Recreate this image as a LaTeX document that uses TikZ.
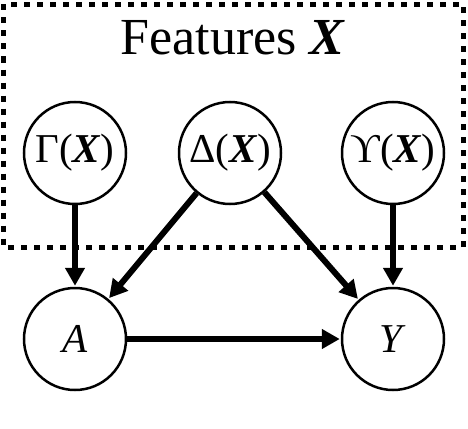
\documentclass[tikz,border=0pt]{standalone}
\usepackage{fontspec}
\setmainfont{Liberation Serif}
\usetikzlibrary{arrows.meta}

\newcommand{\bX}{\textbf{\textit{X}}}

\begin{document}
\begin{tikzpicture}[
    x=1pt, y=-1pt,
    var/.style={circle, draw=black, line width=2.5pt, fill=white, minimum size=102pt, inner sep=0pt, font=\fontsize{41}{45}\selectfont},
    group/.style={draw=black, line width=5pt, dash pattern=on 6pt off 7pt},
    arrow/.style={-{Triangle[length=18pt, width=19pt]}, line width=6pt, shorten >=1pt}
]
\useasboundingbox (0,0) rectangle (468,428);

% features box
\draw[group] (3.5,4.5) rectangle (463,247);
\node[font=\fontsize{52}{56}\selectfont] (title) at (233,38) {Features \bX};

\node[var] (gamma) at (75,153) {Γ(\bX)};
\node[var] (delta) at (230,153) {Δ(\bX)};
\node[var] (ups) at (393,153) {ϒ(\bX)};

\node[var] (a) at (75,339) {\textit{A}};
\node[var] (y) at (393,339) {\textit{Y}};

\draw[arrow] (gamma) -- (a);
\draw[arrow] (delta) -- (a);
\draw[arrow] (delta) -- (y);
\draw[arrow] (ups) -- (y);
\draw[arrow] (a) -- (y);
\end{tikzpicture}
\end{document}
